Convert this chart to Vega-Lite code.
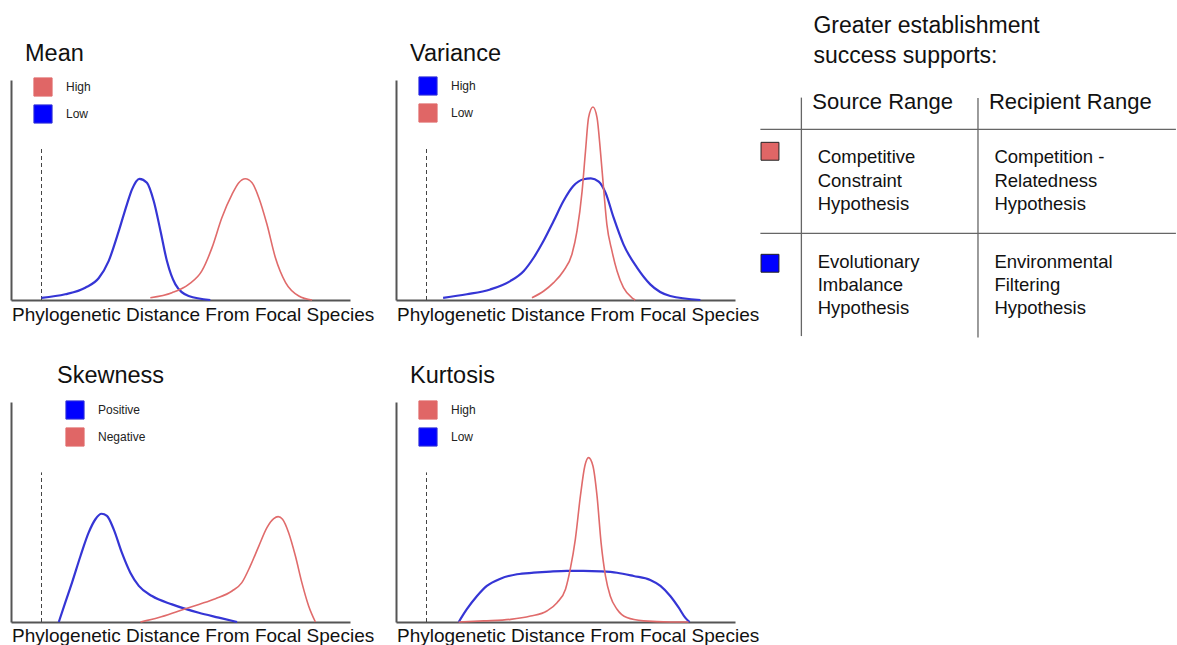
{
  "$schema": "https://vega.github.io/schema/vega-lite/v6.json",
  "autosize": {"type": "pad"},
  "padding": {"left": 11, "top": 14, "right": 0, "bottom": 0},
  "background": "white",
  "config": {
    "view": {"stroke": null},
    "font": "Liberation Sans",
    "axis": {"domain": true, "domainColor": "#555", "domainWidth": 2, "ticks": false, "labels": false, "grid": false, "titleFont": "Liberation Sans", "titleFontSize": 19, "titleFontWeight": "normal", "titleColor": "#111"},
    "title": {"anchor": "start", "frame": "group", "font": "Liberation Sans", "fontSize": 23.5, "fontWeight": "normal", "color": "#111", "baseline": "alphabetic", "offset": 13.5},
    "legend": {"symbolType": "square", "symbolSize": 330, "symbolStrokeColor": "#222", "symbolStrokeWidth": 1, "labelFont": "Liberation Sans", "labelFontSize": 12, "labelColor": "#222", "labelOffset": 13, "rowPadding": 3, "padding": 0}
  },
  "bounds": "flush",
  "columns": 3,
  "spacing": {"row": 102, "column": 46},
  "resolve": {"scale": {"color": "independent", "x": "independent", "y": "independent"}, "legend": {"color": "independent"}},
  "concat": [
    {
      "width": 339, "height": 220,
      "title": {"text": "Mean", "dx": 14, "offset": 11.5},
      "layer": [
        {"data": {"values": [{"d": 0.9, "bottom": 0, "top": 0.69}]}, "mark": {"type": "rule", "strokeDash": [4, 3], "stroke": "#444", "strokeWidth": 1},
         "encoding": {"x": {"field": "d", "type": "quantitative", "scale": {"domain": [0, 10], "nice": false, "zero": false}, "axis": {"title": "Phylogenetic Distance From Focal Species", "titleX": 0.5, "titleY": 20, "titleAlign": "left", "titleAnchor": "start", "titleBaseline": "alphabetic"}}, "y": {"field": "bottom", "type": "quantitative", "scale": {"domain": [0, 1], "nice": false, "zero": false}, "axis": {"title": null}}, "y2": {"field": "top"}}},
        {"data": {"values": [
          {"d": 0.90, "density": 0.010, "series": "Low"}, {"d": 1.60, "density": 0.026, "series": "Low"}, {"d": 2.19, "density": 0.056, "series": "Low"}, {"d": 2.59, "density": 0.100, "series": "Low"}, {"d": 2.88, "density": 0.177, "series": "Low"}, {"d": 3.18, "density": 0.314, "series": "Low"}, {"d": 3.42, "density": 0.435, "series": "Low"}, {"d": 3.57, "density": 0.503, "series": "Low"}, {"d": 3.79, "density": 0.551, "series": "Low"}, {"d": 4.01, "density": 0.533, "series": "Low"}, {"d": 4.21, "density": 0.450, "series": "Low"}, {"d": 4.41, "density": 0.314, "series": "Low"}, {"d": 4.60, "density": 0.177, "series": "Low"}, {"d": 4.85, "density": 0.071, "series": "Low"}, {"d": 5.24, "density": 0.018, "series": "Low"}, {"d": 5.88, "density": 0.000, "series": "Low"},
          {"d": 4.11, "density": 0.010, "series": "High"}, {"d": 4.75, "density": 0.033, "series": "High"}, {"d": 5.24, "density": 0.071, "series": "High"}, {"d": 5.63, "density": 0.132, "series": "High"}, {"d": 5.93, "density": 0.238, "series": "High"}, {"d": 6.22, "density": 0.374, "series": "High"}, {"d": 6.52, "density": 0.480, "series": "High"}, {"d": 6.72, "density": 0.533, "series": "High"}, {"d": 6.91, "density": 0.551, "series": "High"}, {"d": 7.11, "density": 0.533, "series": "High"}, {"d": 7.31, "density": 0.465, "series": "High"}, {"d": 7.55, "density": 0.344, "series": "High"}, {"d": 7.80, "density": 0.192, "series": "High"}, {"d": 8.10, "density": 0.079, "series": "High"}, {"d": 8.49, "density": 0.018, "series": "High"}, {"d": 8.88, "density": 0.000, "series": "High"}
        ]},
         "mark": {"type": "line", "interpolate": "monotone"},
         "encoding": {"x": {"field": "d", "type": "quantitative"}, "y": {"field": "density", "type": "quantitative"},
           "color": {"field": "series", "type": "nominal", "scale": {"domain": ["High", "Low"], "range": ["#e06b6b", "#3535d5"]},
             "legend": {"title": null, "orient": "none", "legendX": 22, "legendY": -3, "encode": {"symbols": {"update": {"fill": {"signal": "datum.value === 'High' ? '#e06666' : '#0000ff'"}, "fillOpacity": {"value": 1}, "stroke": {"signal": "'#222222'"}, "strokeOpacity": {"value": 1}, "strokeWidth": {"value": 1}, "opacity": {"value": 1}}}}}},
           "strokeWidth": {"condition": {"test": "datum.series === 'Low'", "value": 2.2}, "value": 1.6}}}
      ]
    },
    {
      "width": 339, "height": 220,
      "title": {"text": "Variance", "dx": 14, "offset": 10.5},
      "layer": [
        {"data": {"values": [{"d": 0.9, "bottom": 0, "top": 0.69}]}, "mark": {"type": "rule", "strokeDash": [4, 3], "stroke": "#444", "strokeWidth": 1},
         "encoding": {"x": {"field": "d", "type": "quantitative", "scale": {"domain": [0, 10], "nice": false, "zero": false}, "axis": {"title": "Phylogenetic Distance From Focal Species", "titleX": 0.5, "titleY": 20, "titleAlign": "left", "titleAnchor": "start", "titleBaseline": "alphabetic"}}, "y": {"field": "bottom", "type": "quantitative", "scale": {"domain": [0, 1], "nice": false, "zero": false}, "axis": {"title": null}}, "y2": {"field": "top"}}},
        {"data": {"values": [
          {"d": 1.39, "density": 0.010, "series": "High"}, {"d": 2.09, "density": 0.026, "series": "High"}, {"d": 2.78, "density": 0.048, "series": "High"}, {"d": 3.37, "density": 0.086, "series": "High"}, {"d": 3.77, "density": 0.132, "series": "High"}, {"d": 4.06, "density": 0.192, "series": "High"}, {"d": 4.35, "density": 0.268, "series": "High"}, {"d": 4.65, "density": 0.359, "series": "High"}, {"d": 4.94, "density": 0.450, "series": "High"}, {"d": 5.23, "density": 0.518, "series": "High"}, {"d": 5.53, "density": 0.549, "series": "High"}, {"d": 5.75, "density": 0.553, "series": "High"}, {"d": 5.98, "density": 0.538, "series": "High"}, {"d": 6.18, "density": 0.488, "series": "High"}, {"d": 6.42, "density": 0.374, "series": "High"}, {"d": 6.71, "density": 0.253, "series": "High"}, {"d": 7.11, "density": 0.147, "series": "High"}, {"d": 7.50, "density": 0.071, "series": "High"}, {"d": 8.09, "density": 0.018, "series": "High"}, {"d": 8.98, "density": 0.000, "series": "High"},
          {"d": 4.01, "density": 0.010, "series": "Low"}, {"d": 4.36, "density": 0.041, "series": "Low"}, {"d": 4.65, "density": 0.079, "series": "Low"}, {"d": 4.94, "density": 0.132, "series": "Low"}, {"d": 5.19, "density": 0.208, "series": "Low"}, {"d": 5.34, "density": 0.314, "series": "Low"}, {"d": 5.49, "density": 0.495, "series": "Low"}, {"d": 5.59, "density": 0.677, "series": "Low"}, {"d": 5.68, "density": 0.829, "series": "Low"}, {"d": 5.81, "density": 0.877, "series": "Low"}, {"d": 5.93, "density": 0.829, "series": "Low"}, {"d": 6.03, "density": 0.677, "series": "Low"}, {"d": 6.13, "density": 0.495, "series": "Low"}, {"d": 6.22, "density": 0.344, "series": "Low"}, {"d": 6.37, "density": 0.223, "series": "Low"}, {"d": 6.52, "density": 0.132, "series": "Low"}, {"d": 6.71, "density": 0.056, "series": "Low"}, {"d": 6.96, "density": 0.010, "series": "Low"}, {"d": 7.06, "density": 0.000, "series": "Low"}
        ]},
         "mark": {"type": "line", "interpolate": "monotone"},
         "encoding": {"x": {"field": "d", "type": "quantitative"}, "y": {"field": "density", "type": "quantitative"},
           "color": {"field": "series", "type": "nominal", "scale": {"domain": ["High", "Low"], "range": ["#3535d5", "#e06b6b"]},
             "legend": {"title": null, "orient": "none", "legendX": 22, "legendY": -4, "encode": {"symbols": {"update": {"fill": {"signal": "datum.value === 'High' ? '#0000ff' : '#e06666'"}, "fillOpacity": {"value": 1}, "stroke": {"signal": "'#222222'"}, "strokeOpacity": {"value": 1}, "strokeWidth": {"value": 1}, "opacity": {"value": 1}}}}}},
           "strokeWidth": {"condition": {"test": "datum.series === 'High'", "value": 2.2}, "value": 1.6}}}
      ]
    },
    {
      "width": 395, "height": 220,
      "layer": [
        {"data": {"values": [
          {"x": 0, "x2": 105.2, "y": 22.4, "y2": 22.4},
          {"x": 0, "x2": 105.2, "y": 69.7, "y2": 69.7},
          {"x": 10.38, "x2": 10.38, "y": 8.0, "y2": 116.4},
          {"x": 55.09, "x2": 55.09, "y": 8.2, "y2": 117.1}
        ]}, "mark": {"type": "rule", "color": "#666", "strokeWidth": 1.3},
         "encoding": {"x": {"field": "x", "type": "quantitative", "scale": {"domain": [5.22, 105.22], "nice": false, "zero": false}, "axis": null}, "y": {"field": "y", "type": "quantitative", "scale": {"domain": [0, 100], "nice": false, "zero": false, "reverse": true}, "axis": null}, "x2": {"field": "x2"}, "y2": {"field": "y2"}}},
        {"data": {"values": [
          {"x": 13.42, "y": -21.5, "label": "Greater establishment\nsuccess supports:"}
        ]}, "mark": {"type": "text", "align": "left", "baseline": "alphabetic", "fontSize": 23, "lineHeight": 30, "lineBreak": "\n", "font": "Liberation Sans", "color": "#111"},
         "encoding": {"x": {"field": "x", "type": "quantitative"}, "y": {"field": "y", "type": "quantitative"}, "text": {"field": "label"}}},
        {"data": {"values": [
          {"x": 13.16, "y": 13.3, "label": "Source Range"},
          {"x": 57.87, "y": 13.3, "label": "Recipient Range"}
        ]}, "mark": {"type": "text", "align": "left", "baseline": "alphabetic", "fontSize": 22, "font": "Liberation Sans", "color": "#111"},
         "encoding": {"x": {"field": "x", "type": "quantitative"}, "y": {"field": "y", "type": "quantitative"}, "text": {"field": "label"}}},
        {"data": {"values": [
          {"x": 14.51, "y": 37.9, "label": "Competitive\nConstraint\nHypothesis"},
          {"x": 59.24, "y": 37.9, "label": "Competition -\nRelatedness\nHypothesis"},
          {"x": 14.51, "y": 85.3, "label": "Evolutionary\nImbalance\nHypothesis"},
          {"x": 59.24, "y": 85.3, "label": "Environmental\nFiltering\nHypothesis"}
        ]}, "mark": {"type": "text", "align": "left", "baseline": "alphabetic", "fontSize": 18.5, "lineHeight": 23.3, "lineBreak": "\n", "font": "Liberation Sans", "color": "#111"},
         "encoding": {"x": {"field": "x", "type": "quantitative"}, "y": {"field": "y", "type": "quantitative"}, "text": {"field": "label"}}},
        {"data": {"values": [
          {"x": 2.43, "y": 32.4, "outcome": "red"},
          {"x": 2.43, "y": 83.3, "outcome": "blue"}
        ]}, "mark": {"type": "point", "shape": "square", "filled": true, "opacity": 1, "size": 320, "stroke": "#222", "strokeWidth": 1},
         "encoding": {"x": {"field": "x", "type": "quantitative"}, "y": {"field": "y", "type": "quantitative"}, "fill": {"field": "outcome", "type": "nominal", "scale": {"domain": ["red", "blue"], "range": ["#e06666", "#0000ff"]}, "legend": null}}}
      ]
    },
    {
      "width": 339, "height": 220,
      "title": {"text": "Skewness", "dx": 46, "offset": 12.5},
      "layer": [
        {"data": {"values": [{"d": 0.9, "bottom": 0, "top": 0.68}]}, "mark": {"type": "rule", "strokeDash": [4, 3], "stroke": "#444", "strokeWidth": 1},
         "encoding": {"x": {"field": "d", "type": "quantitative", "scale": {"domain": [0, 10], "nice": false, "zero": false}, "axis": {"title": "Phylogenetic Distance From Focal Species", "titleX": 0.5, "titleY": 19.5, "titleAlign": "left", "titleAnchor": "start", "titleBaseline": "alphabetic"}}, "y": {"field": "bottom", "type": "quantitative", "scale": {"domain": [0, 1], "nice": false, "zero": false}, "axis": {"title": null}}, "y2": {"field": "top"}}},
        {"data": {"values": [
          {"d": 1.41, "density": 0.000, "series": "Positive"}, {"d": 1.60, "density": 0.088, "series": "Positive"}, {"d": 1.80, "density": 0.179, "series": "Positive"}, {"d": 2.05, "density": 0.300, "series": "Positive"}, {"d": 2.29, "density": 0.406, "series": "Positive"}, {"d": 2.49, "density": 0.467, "series": "Positive"}, {"d": 2.67, "density": 0.492, "series": "Positive"}, {"d": 2.83, "density": 0.482, "series": "Positive"}, {"d": 3.03, "density": 0.421, "series": "Positive"}, {"d": 3.27, "density": 0.315, "series": "Positive"}, {"d": 3.52, "density": 0.224, "series": "Positive"}, {"d": 3.77, "density": 0.164, "series": "Positive"}, {"d": 4.16, "density": 0.118, "series": "Positive"}, {"d": 4.75, "density": 0.080, "series": "Positive"}, {"d": 5.54, "density": 0.042, "series": "Positive"}, {"d": 6.13, "density": 0.020, "series": "Positive"}, {"d": 6.67, "density": 0.000, "series": "Positive"},
          {"d": 3.82, "density": 0.000, "series": "Negative"}, {"d": 4.36, "density": 0.020, "series": "Negative"}, {"d": 4.95, "density": 0.050, "series": "Negative"}, {"d": 5.54, "density": 0.080, "series": "Negative"}, {"d": 6.03, "density": 0.106, "series": "Negative"}, {"d": 6.52, "density": 0.141, "series": "Negative"}, {"d": 6.81, "density": 0.179, "series": "Negative"}, {"d": 7.06, "density": 0.255, "series": "Negative"}, {"d": 7.31, "density": 0.345, "series": "Negative"}, {"d": 7.55, "density": 0.429, "series": "Negative"}, {"d": 7.75, "density": 0.470, "series": "Negative"}, {"d": 7.88, "density": 0.479, "series": "Negative"}, {"d": 8.01, "density": 0.467, "series": "Negative"}, {"d": 8.19, "density": 0.406, "series": "Negative"}, {"d": 8.39, "density": 0.300, "series": "Negative"}, {"d": 8.58, "density": 0.179, "series": "Negative"}, {"d": 8.78, "density": 0.073, "series": "Negative"}, {"d": 8.98, "density": 0.000, "series": "Negative"}
        ]},
         "mark": {"type": "line", "interpolate": "monotone"},
         "encoding": {"x": {"field": "d", "type": "quantitative"}, "y": {"field": "density", "type": "quantitative"},
           "color": {"field": "series", "type": "nominal", "scale": {"domain": ["Positive", "Negative"], "range": ["#3535d5", "#e06b6b"]},
             "legend": {"title": null, "orient": "none", "legendX": 54, "legendY": -2, "encode": {"symbols": {"update": {"fill": {"signal": "datum.value === 'Positive' ? '#0000ff' : '#e06666'"}, "fillOpacity": {"value": 1}, "stroke": {"signal": "'#222222'"}, "strokeOpacity": {"value": 1}, "strokeWidth": {"value": 1}, "opacity": {"value": 1}}}}}},
           "strokeWidth": {"condition": {"test": "datum.series === 'Positive'", "value": 2.2}, "value": 1.6}}}
      ]
    },
    {
      "width": 339, "height": 220,
      "title": {"text": "Kurtosis", "dx": 14, "offset": 12.5},
      "layer": [
        {"data": {"values": [{"d": 0.9, "bottom": 0, "top": 0.68}]}, "mark": {"type": "rule", "strokeDash": [4, 3], "stroke": "#444", "strokeWidth": 1},
         "encoding": {"x": {"field": "d", "type": "quantitative", "scale": {"domain": [0, 10], "nice": false, "zero": false}, "axis": {"title": "Phylogenetic Distance From Focal Species", "titleX": 0.5, "titleY": 19.5, "titleAlign": "left", "titleAnchor": "start", "titleBaseline": "alphabetic"}}, "y": {"field": "bottom", "type": "quantitative", "scale": {"domain": [0, 1], "nice": false, "zero": false}, "axis": {"title": null}}, "y2": {"field": "top"}}},
        {"data": {"values": [
          {"d": 1.85, "density": 0.000, "series": "Low"}, {"d": 2.09, "density": 0.058, "series": "Low"}, {"d": 2.39, "density": 0.118, "series": "Low"}, {"d": 2.68, "density": 0.164, "series": "Low"}, {"d": 3.08, "density": 0.197, "series": "Low"}, {"d": 3.57, "density": 0.217, "series": "Low"}, {"d": 4.06, "density": 0.224, "series": "Low"}, {"d": 4.55, "density": 0.229, "series": "Low"}, {"d": 5.04, "density": 0.232, "series": "Low"}, {"d": 5.53, "density": 0.232, "series": "Low"}, {"d": 6.03, "density": 0.230, "series": "Low"}, {"d": 6.52, "density": 0.224, "series": "Low"}, {"d": 7.01, "density": 0.209, "series": "Low"}, {"d": 7.50, "density": 0.191, "series": "Low"}, {"d": 7.80, "density": 0.164, "series": "Low"}, {"d": 8.09, "density": 0.118, "series": "Low"}, {"d": 8.34, "density": 0.065, "series": "Low"}, {"d": 8.53, "density": 0.020, "series": "Low"}, {"d": 8.66, "density": 0.000, "series": "Low"},
          {"d": 1.85, "density": 0.000, "series": "High"}, {"d": 2.59, "density": 0.005, "series": "High"}, {"d": 3.38, "density": 0.012, "series": "High"}, {"d": 3.97, "density": 0.027, "series": "High"}, {"d": 4.45, "density": 0.050, "series": "High"}, {"d": 4.75, "density": 0.088, "series": "High"}, {"d": 5.00, "density": 0.149, "series": "High"}, {"d": 5.14, "density": 0.240, "series": "High"}, {"d": 5.29, "density": 0.376, "series": "High"}, {"d": 5.44, "density": 0.573, "series": "High"}, {"d": 5.57, "density": 0.709, "series": "High"}, {"d": 5.68, "density": 0.747, "series": "High"}, {"d": 5.81, "density": 0.709, "series": "High"}, {"d": 5.93, "density": 0.573, "series": "High"}, {"d": 6.05, "density": 0.360, "series": "High"}, {"d": 6.18, "density": 0.209, "series": "High"}, {"d": 6.32, "density": 0.118, "series": "High"}, {"d": 6.52, "density": 0.058, "series": "High"}, {"d": 6.81, "density": 0.020, "series": "High"}, {"d": 7.30, "density": 0.005, "series": "High"}, {"d": 8.09, "density": 0.000, "series": "High"}, {"d": 8.63, "density": 0.000, "series": "High"}
        ]},
         "mark": {"type": "line", "interpolate": "monotone"},
         "encoding": {"x": {"field": "d", "type": "quantitative"}, "y": {"field": "density", "type": "quantitative"},
           "color": {"field": "series", "type": "nominal", "scale": {"domain": ["High", "Low"], "range": ["#e06b6b", "#3535d5"]},
             "legend": {"title": null, "orient": "none", "legendX": 22, "legendY": -2, "encode": {"symbols": {"update": {"fill": {"signal": "datum.value === 'High' ? '#e06666' : '#0000ff'"}, "fillOpacity": {"value": 1}, "stroke": {"signal": "'#222222'"}, "strokeOpacity": {"value": 1}, "strokeWidth": {"value": 1}, "opacity": {"value": 1}}}}}},
           "strokeWidth": {"condition": {"test": "datum.series === 'Low'", "value": 2.2}, "value": 1.6}}}
      ]
    }
  ]
}
